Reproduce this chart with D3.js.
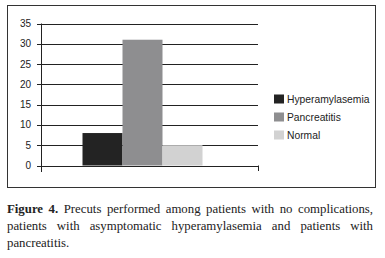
<!DOCTYPE html>
<html>
<head>
<meta charset="utf-8">
<script src="https://cdn.jsdelivr.net/npm/d3@7"></script>
<style>
  body { margin: 0; background: #fff; }
  #chart { position: absolute; left: 0; top: 0; }
  #caption { position: absolute; left: 7px; top: 201px; width: 366px;
    font-family: "Liberation Serif", serif; font-size: 12.8px; line-height: 17px; color: #222; }
  #caption span { display: block; text-align: justify; text-align-last: justify; white-space: nowrap; }
  #caption span.last { text-align-last: left; }
</style>
</head>
<body>
<div id="chart"></div>
<div id="caption">
  <span><b>Figure 4.</b> Precuts performed among patients with no complications,</span>
  <span>patients with asymptomatic hyperamylasemia and patients with</span>
  <span class="last">pancreatitis.</span>
</div>
<script>
// séries
const categories = ["Hyperamylasemia", "Pancreatitis", "Normal"];
const values = [8, 31, 5];
const colors = ["#232323", "#8e8e90", "#d2d2d2"];
const yTicks = [0, 5, 10, 15, 20, 25, 30, 35];

const width = 385, height = 258;
const svg = d3.select("#chart").append("svg")
  .attr("width", width)
  .attr("height", height);

// cadre
svg.append("rect")
  .attr("x", 7.5).attr("y", 5.5)
  .attr("width", 368).attr("height", 182)
  .attr("fill", "none")
  .attr("stroke", "#333")
  .attr("stroke-width", 1);

const plotLeft = 41, plotRight = 258;
const y = d3.scaleLinear().domain([0, 35]).range([165.5, 23.5]);
const x = d3.scaleBand().domain(categories).range([82.5, 202.5]).padding(0);

// grille
svg.append("g")
  .selectAll("line")
  .data(yTicks)
  .enter().append("line")
  .attr("x1", 37).attr("x2", plotRight)
  .attr("y1", d => Math.round(y(d)) + 0.5)
  .attr("y2", d => Math.round(y(d)) + 0.5)
  .attr("stroke", "#222")
  .attr("stroke-width", 1);

// axe Y
svg.append("line")
  .attr("x1", plotLeft + 0.5).attr("x2", plotLeft + 0.5)
  .attr("y1", y(35)).attr("y2", 172)
  .attr("stroke", "#222");
svg.append("line")
  .attr("x1", plotRight + 0.5).attr("x2", plotRight + 0.5)
  .attr("y1", y(0)).attr("y2", 171)
  .attr("stroke", "#222");

svg.append("g")
  .attr("text-anchor", "end")
  .selectAll("text")
  .data(yTicks)
  .enter().append("text")
  .attr("x", 31)
  .attr("y", d => y(d))
  .attr("dy", "0.35em")
  .attr("font-family", "Liberation Sans, Arial, sans-serif")
  .attr("font-size", 10)
  .attr("fill", "#222")
  .text(d => d);

// barres
svg.append("g")
  .selectAll("rect")
  .data(values)
  .enter().append("rect")
  .attr("x", (d, i) => x(categories[i]))
  .attr("width", x.bandwidth())
  .attr("y", d => y(d))
  .attr("height", d => y(0) - y(d))
  .attr("fill", (d, i) => colors[i]);

// légende
const legend = svg.append("g")
  .selectAll("g")
  .data(categories)
  .enter().append("g")
  .attr("transform", (d, i) => `translate(274, ${99 + i * 18})`);

legend.append("rect")
  .attr("y", -4.5)
  .attr("width", 10)
  .attr("height", 9)
  .attr("fill", (d, i) => colors[i]);

legend.append("text")
  .attr("x", 13)
  .attr("dy", "0.35em")
  .attr("font-family", "Liberation Sans, Arial, sans-serif")
  .attr("font-size", 10.3)
  .attr("fill", "#222")
  .text(d => d);
</script>
</body>
</html>
